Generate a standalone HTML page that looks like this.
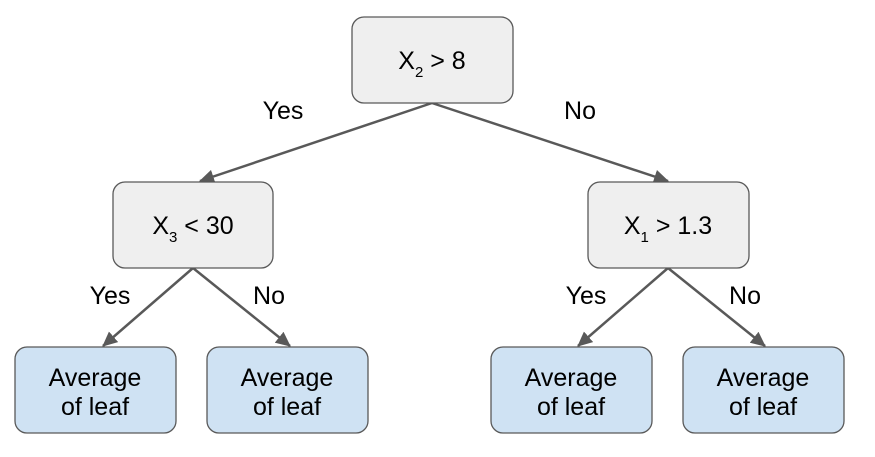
<!DOCTYPE html>
<html><head><style>body{margin:0;background:#fff}</style></head><body>
<svg width="875" height="452" xmlns="http://www.w3.org/2000/svg" font-family="Liberation Sans, Arial, sans-serif" font-size="25" fill="#000">
<defs><marker id="a" markerWidth="16" markerHeight="14" refX="14" refY="7" orient="auto" markerUnits="userSpaceOnUse"><path d="M0,0 L15,7 L0,14 z" fill="#595959"/></marker></defs>
<g stroke="#595959" stroke-width="2.5" fill="none" marker-end="url(#a)">
<line x1="432" y1="103" x2="200" y2="181"/>
<line x1="432" y1="103" x2="668" y2="181"/>
<line x1="193" y1="268" x2="103" y2="346"/>
<line x1="193" y1="268" x2="290" y2="346"/>
<line x1="668" y1="268" x2="578" y2="346"/>
<line x1="668" y1="268" x2="765" y2="346"/>
</g>
<g stroke="#595959" stroke-width="1.3">
<rect x="352" y="17" width="161" height="86" rx="12" fill="#efefef"/>
<rect x="113" y="182" width="160" height="86" rx="12" fill="#efefef"/>
<rect x="588" y="182" width="161" height="86" rx="12" fill="#efefef"/>
<rect x="15" y="347" width="161" height="86" rx="12" fill="#cfe2f3"/>
<rect x="207" y="347" width="161" height="86" rx="12" fill="#cfe2f3"/>
<rect x="491" y="347" width="161" height="86" rx="12" fill="#cfe2f3"/>
<rect x="683" y="347" width="161" height="86" rx="12" fill="#cfe2f3"/>
</g>
<text x="432" y="69" text-anchor="middle">X<tspan font-size="15" dy="8">2</tspan><tspan dy="-8"> &gt; 8</tspan></text>
<text x="193" y="234" text-anchor="middle">X<tspan font-size="15" dy="8">3</tspan><tspan dy="-8"> &lt; 30</tspan></text>
<text x="668" y="234" text-anchor="middle">X<tspan font-size="15" dy="8">1</tspan><tspan dy="-8"> &gt; 1.3</tspan></text>
<g text-anchor="middle">
<text x="95" y="386">Average</text><text x="95" y="415">of leaf</text>
<text x="287" y="386">Average</text><text x="287" y="415">of leaf</text>
<text x="571" y="386">Average</text><text x="571" y="415">of leaf</text>
<text x="763" y="386">Average</text><text x="763" y="415">of leaf</text>
<text x="283" y="119">Yes</text><text x="580" y="119">No</text>
<text x="110" y="304">Yes</text><text x="269" y="304">No</text>
<text x="586" y="304">Yes</text><text x="745" y="304">No</text>
</g>
</svg>
</body></html>
